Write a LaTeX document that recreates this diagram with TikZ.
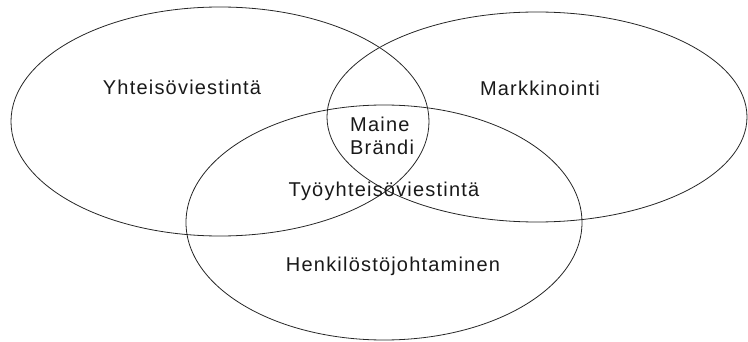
\documentclass[tikz,border=0pt]{standalone}
\usepackage{fontspec}
\setmainfont{Liberation Sans}[LetterSpace=6]
\begin{document}
\begin{tikzpicture}[x=1pt,y=-1pt,
  ring/.style={draw=black!85, line width=0.8pt},
  lbl/.style={font=\fontsize{20}{23}\selectfont, inner sep=0pt, anchor=base, text=black!90}]
\useasboundingbox (0,0) rectangle (748,342);
\draw[ring] (220,121.5) ellipse [x radius=209pt, y radius=114.5pt];
\draw[ring] (537,117) ellipse [x radius=210pt, y radius=105pt];
\draw[ring] (384,222.5) ellipse [x radius=198pt, y radius=117.5pt];
\node[lbl] (yht) at (182,95) {Yhteisöviestintä};
\node[lbl] (mar) at (540,96) {Markkinointi};
\node[lbl, anchor=base west] (mai) at (350,132) {Maine};
\node[lbl, anchor=base west] (bra) at (350,155) {Brändi};
\node[lbl] (tyo) at (384,197) {Työyhteisöviestintä};
\node[lbl] (hen) at (393,272) {Henkilöstöjohtaminen};
\end{tikzpicture}
\end{document}
